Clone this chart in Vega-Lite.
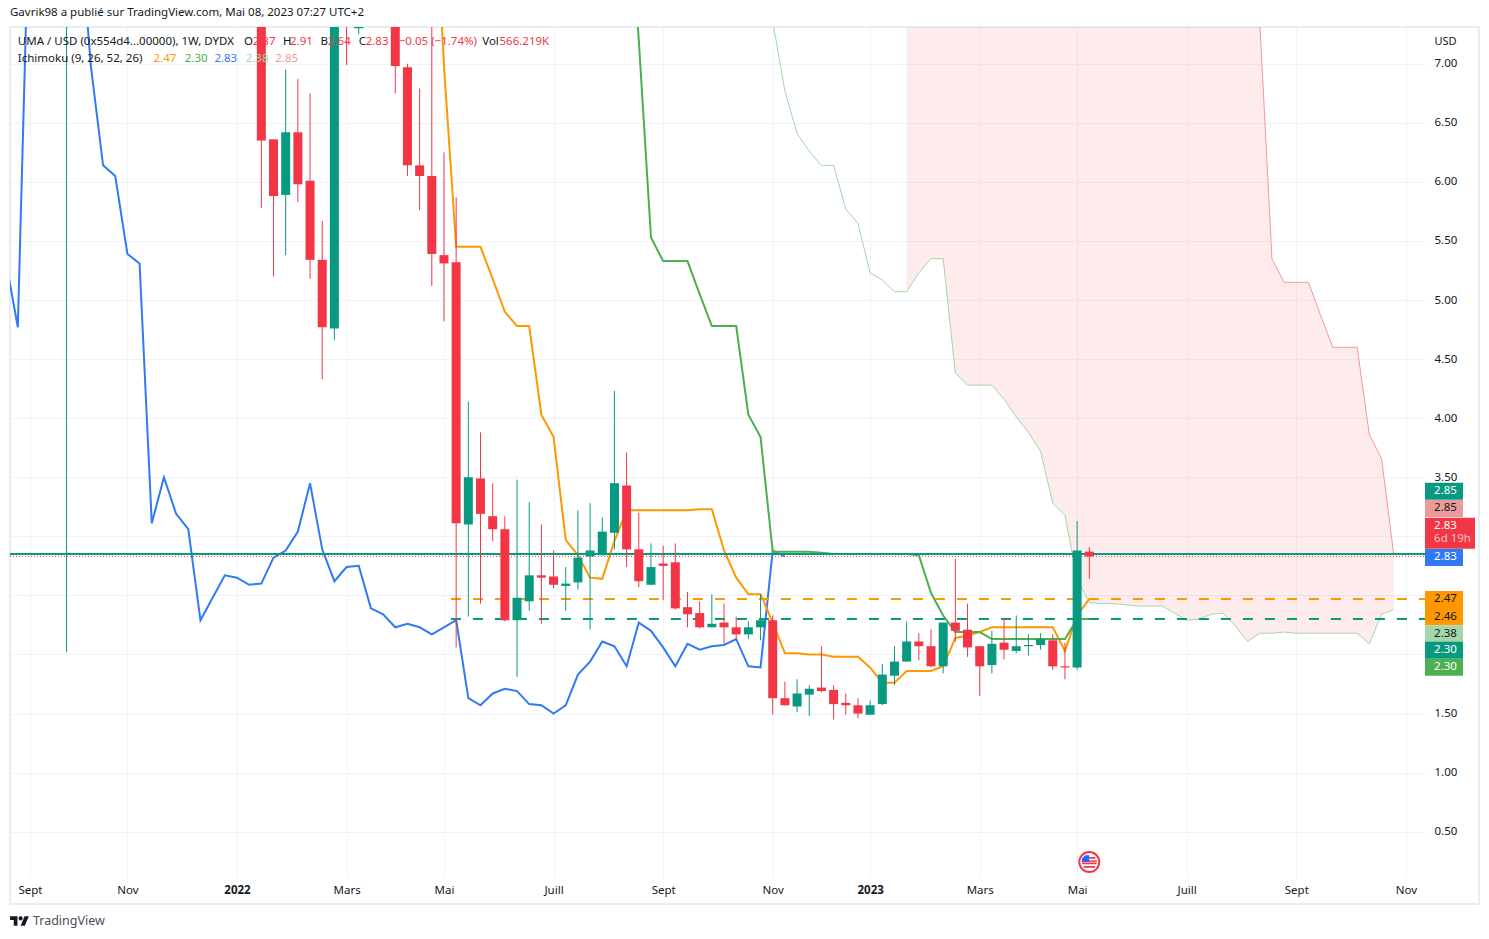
{
  "$schema": "https://vega.github.io/schema/vega-lite/v6.json",
  "width": 1415,
  "height": 850,
  "autosize": "none",
  "padding": {"left": 10, "top": 27, "right": 64, "bottom": 62},
  "background": "#ffffff",
  "title": {
    "text": "Gavrik98 a publié sur TradingView.com, Mai 08, 2023 07:27 UTC+2",
    "anchor": "start",
    "frame": "group",
    "offset": 8,
    "font": "Noto Sans",
    "fontSize": 11.5,
    "fontWeight": "normal",
    "color": "#131722"
  },
  "config": {
    "view": {"stroke": null},
    "font": "Noto Sans"
  },
  "data": {"values": [{}]},
  "datasets": {
    "candles": [
      {"date": "2021-09-27", "open": 9.0, "high": 12.0, "low": 2.02, "close": 9.5},
      {"date": "2022-01-17", "open": 8.2, "high": 8.5, "low": 5.78, "close": 6.35},
      {"date": "2022-01-24", "open": 6.36, "high": 6.36, "low": 5.2, "close": 5.88},
      {"date": "2022-01-31", "open": 5.89, "high": 6.95, "low": 5.38, "close": 6.42},
      {"date": "2022-02-07", "open": 6.42, "high": 6.87, "low": 5.83, "close": 5.98},
      {"date": "2022-02-14", "open": 6.01, "high": 6.75, "low": 5.18, "close": 5.34},
      {"date": "2022-02-21", "open": 5.34, "high": 5.67, "low": 4.33, "close": 4.77},
      {"date": "2022-02-28", "open": 4.76, "high": 9.0, "low": 4.66, "close": 8.62},
      {"date": "2022-03-07", "open": 9.0, "high": 9.5, "low": 6.99, "close": 8.0},
      {"date": "2022-03-14", "open": 7.3, "high": 9.0, "low": 7.25, "close": 8.5},
      {"date": "2022-04-04", "open": 8.29, "high": 8.5, "low": 6.75, "close": 6.98},
      {"date": "2022-04-11", "open": 6.97, "high": 7.0, "low": 6.05, "close": 6.14},
      {"date": "2022-04-18", "open": 6.14, "high": 6.79, "low": 5.76, "close": 6.05},
      {"date": "2022-04-25", "open": 6.05, "high": 8.0, "low": 5.12, "close": 5.39},
      {"date": "2022-05-02", "open": 5.38, "high": 6.25, "low": 4.82, "close": 5.31},
      {"date": "2022-05-09", "open": 5.32, "high": 5.87, "low": 2.06, "close": 3.11},
      {"date": "2022-05-16", "open": 3.1, "high": 4.14, "low": 2.32, "close": 3.5},
      {"date": "2022-05-23", "open": 3.49, "high": 3.88, "low": 2.43, "close": 3.19},
      {"date": "2022-05-30", "open": 3.17, "high": 3.45, "low": 2.96, "close": 3.06},
      {"date": "2022-06-06", "open": 3.06, "high": 3.17, "low": 2.28, "close": 2.29},
      {"date": "2022-06-13", "open": 2.29, "high": 3.48, "low": 1.81, "close": 2.48},
      {"date": "2022-06-20", "open": 2.45, "high": 3.29, "low": 2.37, "close": 2.67},
      {"date": "2022-06-27", "open": 2.67, "high": 3.1, "low": 2.26, "close": 2.65},
      {"date": "2022-07-04", "open": 2.66, "high": 2.88, "low": 2.56, "close": 2.59},
      {"date": "2022-07-11", "open": 2.58, "high": 2.74, "low": 2.37, "close": 2.6},
      {"date": "2022-07-18", "open": 2.61, "high": 3.22, "low": 2.55, "close": 2.82},
      {"date": "2022-07-25", "open": 2.83, "high": 3.28, "low": 2.21, "close": 2.88},
      {"date": "2022-08-01", "open": 2.84, "high": 3.16, "low": 2.84, "close": 3.04},
      {"date": "2022-08-08", "open": 3.03, "high": 4.23, "low": 2.89, "close": 3.45},
      {"date": "2022-08-15", "open": 3.43, "high": 3.71, "low": 2.74, "close": 2.89},
      {"date": "2022-08-22", "open": 2.89, "high": 3.2, "low": 2.57, "close": 2.62},
      {"date": "2022-08-29", "open": 2.59, "high": 2.94, "low": 2.59, "close": 2.74},
      {"date": "2022-09-05", "open": 2.77, "high": 2.92, "low": 2.46, "close": 2.75},
      {"date": "2022-09-12", "open": 2.78, "high": 2.94, "low": 2.38, "close": 2.39},
      {"date": "2022-09-19", "open": 2.4, "high": 2.53, "low": 2.23, "close": 2.34},
      {"date": "2022-09-26", "open": 2.35, "high": 2.45, "low": 2.22, "close": 2.23},
      {"date": "2022-10-03", "open": 2.23, "high": 2.51, "low": 2.23, "close": 2.26},
      {"date": "2022-10-10", "open": 2.27, "high": 2.43, "low": 2.09, "close": 2.23},
      {"date": "2022-10-17", "open": 2.23, "high": 2.32, "low": 2.12, "close": 2.17},
      {"date": "2022-10-24", "open": 2.17, "high": 2.28, "low": 2.13, "close": 2.23},
      {"date": "2022-10-31", "open": 2.23, "high": 2.51, "low": 2.12, "close": 2.29},
      {"date": "2022-11-07", "open": 2.29, "high": 2.33, "low": 1.49, "close": 1.63},
      {"date": "2022-11-14", "open": 1.63, "high": 1.77, "low": 1.57, "close": 1.57},
      {"date": "2022-11-21", "open": 1.56, "high": 1.79, "low": 1.51, "close": 1.67},
      {"date": "2022-11-28", "open": 1.66, "high": 1.74, "low": 1.48, "close": 1.71},
      {"date": "2022-12-05", "open": 1.72, "high": 2.07, "low": 1.68, "close": 1.69},
      {"date": "2022-12-12", "open": 1.7, "high": 1.74, "low": 1.45, "close": 1.58},
      {"date": "2022-12-19", "open": 1.59, "high": 1.67, "low": 1.49, "close": 1.57},
      {"date": "2022-12-26", "open": 1.57, "high": 1.63, "low": 1.46, "close": 1.5},
      {"date": "2023-01-02", "open": 1.49, "high": 1.61, "low": 1.49, "close": 1.57},
      {"date": "2023-01-09", "open": 1.58, "high": 1.92, "low": 1.57, "close": 1.83},
      {"date": "2023-01-16", "open": 1.82, "high": 2.07, "low": 1.74, "close": 1.94},
      {"date": "2023-01-23", "open": 1.94, "high": 2.28, "low": 1.94, "close": 2.11},
      {"date": "2023-01-30", "open": 2.11, "high": 2.18, "low": 1.95, "close": 2.07},
      {"date": "2023-02-06", "open": 2.07, "high": 2.21, "low": 1.89, "close": 1.9},
      {"date": "2023-02-13", "open": 1.9, "high": 2.27, "low": 1.84, "close": 2.27},
      {"date": "2023-02-20", "open": 2.27, "high": 2.81, "low": 2.11, "close": 2.2},
      {"date": "2023-02-27", "open": 2.21, "high": 2.43, "low": 1.98, "close": 2.06},
      {"date": "2023-03-06", "open": 2.07, "high": 2.07, "low": 1.65, "close": 1.9},
      {"date": "2023-03-13", "open": 1.91, "high": 2.2, "low": 1.84, "close": 2.09},
      {"date": "2023-03-20", "open": 2.1, "high": 2.31, "low": 1.96, "close": 2.04},
      {"date": "2023-03-27", "open": 2.03, "high": 2.33, "low": 2.01, "close": 2.07},
      {"date": "2023-04-03", "open": 2.07, "high": 2.17, "low": 1.99, "close": 2.08},
      {"date": "2023-04-10", "open": 2.08, "high": 2.18, "low": 2.04, "close": 2.13},
      {"date": "2023-04-17", "open": 2.12, "high": 2.17, "low": 1.87, "close": 1.9},
      {"date": "2023-04-24", "open": 1.9, "high": 2.1, "low": 1.79, "close": 1.89},
      {"date": "2023-05-01", "open": 1.89, "high": 3.13, "low": 1.87, "close": 2.88},
      {"date": "2023-05-08", "open": 2.87, "high": 2.91, "low": 2.64, "close": 2.83}
    ],
    "ichimoku": [
      {"date": "2021-08-23", "series": "chikou", "value": 5.34},
      {"date": "2021-08-30", "series": "chikou", "value": 4.77},
      {"date": "2021-09-06", "series": "chikou", "value": 8.62},
      {"date": "2021-09-13", "series": "chikou", "value": 9.0},
      {"date": "2021-09-20", "series": "chikou", "value": 9.2},
      {"date": "2021-09-27", "series": "chikou", "value": 8.8},
      {"date": "2021-10-04", "series": "chikou", "value": 8.29},
      {"date": "2021-10-11", "series": "chikou", "value": 6.98},
      {"date": "2021-10-18", "series": "chikou", "value": 6.14},
      {"date": "2021-10-25", "series": "chikou", "value": 6.05},
      {"date": "2021-11-01", "series": "chikou", "value": 5.39},
      {"date": "2021-11-08", "series": "chikou", "value": 5.31},
      {"date": "2021-11-15", "series": "chikou", "value": 3.11},
      {"date": "2021-11-22", "series": "chikou", "value": 3.5},
      {"date": "2021-11-29", "series": "chikou", "value": 3.19},
      {"date": "2021-12-06", "series": "chikou", "value": 3.06},
      {"date": "2021-12-13", "series": "chikou", "value": 2.29},
      {"date": "2021-12-20", "series": "chikou", "value": 2.48},
      {"date": "2021-12-27", "series": "chikou", "value": 2.67},
      {"date": "2022-01-03", "series": "chikou", "value": 2.65},
      {"date": "2022-01-10", "series": "chikou", "value": 2.59},
      {"date": "2022-01-17", "series": "chikou", "value": 2.6},
      {"date": "2022-01-24", "series": "chikou", "value": 2.82},
      {"date": "2022-01-31", "series": "chikou", "value": 2.88},
      {"date": "2022-02-07", "series": "chikou", "value": 3.04},
      {"date": "2022-02-14", "series": "chikou", "value": 3.45},
      {"date": "2022-02-21", "series": "chikou", "value": 2.89},
      {"date": "2022-02-28", "series": "chikou", "value": 2.62},
      {"date": "2022-03-07", "series": "chikou", "value": 2.74},
      {"date": "2022-03-14", "series": "chikou", "value": 2.75},
      {"date": "2022-03-21", "series": "chikou", "value": 2.39},
      {"date": "2022-03-28", "series": "chikou", "value": 2.34},
      {"date": "2022-04-04", "series": "chikou", "value": 2.23},
      {"date": "2022-04-11", "series": "chikou", "value": 2.26},
      {"date": "2022-04-18", "series": "chikou", "value": 2.23},
      {"date": "2022-04-25", "series": "chikou", "value": 2.17},
      {"date": "2022-05-02", "series": "chikou", "value": 2.23},
      {"date": "2022-05-09", "series": "chikou", "value": 2.29},
      {"date": "2022-05-16", "series": "chikou", "value": 1.63},
      {"date": "2022-05-23", "series": "chikou", "value": 1.57},
      {"date": "2022-05-30", "series": "chikou", "value": 1.67},
      {"date": "2022-06-06", "series": "chikou", "value": 1.71},
      {"date": "2022-06-13", "series": "chikou", "value": 1.69},
      {"date": "2022-06-20", "series": "chikou", "value": 1.58},
      {"date": "2022-06-27", "series": "chikou", "value": 1.57},
      {"date": "2022-07-04", "series": "chikou", "value": 1.5},
      {"date": "2022-07-11", "series": "chikou", "value": 1.57},
      {"date": "2022-07-18", "series": "chikou", "value": 1.83},
      {"date": "2022-07-25", "series": "chikou", "value": 1.94},
      {"date": "2022-08-01", "series": "chikou", "value": 2.11},
      {"date": "2022-08-08", "series": "chikou", "value": 2.07},
      {"date": "2022-08-15", "series": "chikou", "value": 1.9},
      {"date": "2022-08-22", "series": "chikou", "value": 2.27},
      {"date": "2022-08-29", "series": "chikou", "value": 2.2},
      {"date": "2022-09-05", "series": "chikou", "value": 2.06},
      {"date": "2022-09-12", "series": "chikou", "value": 1.9},
      {"date": "2022-09-19", "series": "chikou", "value": 2.09},
      {"date": "2022-09-26", "series": "chikou", "value": 2.04},
      {"date": "2022-10-03", "series": "chikou", "value": 2.07},
      {"date": "2022-10-10", "series": "chikou", "value": 2.08},
      {"date": "2022-10-17", "series": "chikou", "value": 2.13},
      {"date": "2022-10-24", "series": "chikou", "value": 1.9},
      {"date": "2022-10-31", "series": "chikou", "value": 1.89},
      {"date": "2022-11-07", "series": "chikou", "value": 2.88},
      {"date": "2022-11-14", "series": "chikou", "value": 2.83},
      {"date": "2022-04-25", "series": "conversion", "value": 9.0},
      {"date": "2022-05-02", "series": "conversion", "value": 6.98},
      {"date": "2022-05-09", "series": "conversion", "value": 5.45},
      {"date": "2022-05-16", "series": "conversion", "value": 5.45},
      {"date": "2022-05-23", "series": "conversion", "value": 5.45},
      {"date": "2022-05-30", "series": "conversion", "value": 5.18},
      {"date": "2022-06-06", "series": "conversion", "value": 4.9},
      {"date": "2022-06-13", "series": "conversion", "value": 4.78},
      {"date": "2022-06-20", "series": "conversion", "value": 4.78},
      {"date": "2022-06-27", "series": "conversion", "value": 4.03},
      {"date": "2022-07-04", "series": "conversion", "value": 3.84},
      {"date": "2022-07-11", "series": "conversion", "value": 2.97},
      {"date": "2022-07-18", "series": "conversion", "value": 2.84},
      {"date": "2022-07-25", "series": "conversion", "value": 2.65},
      {"date": "2022-08-01", "series": "conversion", "value": 2.64},
      {"date": "2022-08-08", "series": "conversion", "value": 2.96},
      {"date": "2022-08-15", "series": "conversion", "value": 3.22},
      {"date": "2022-08-22", "series": "conversion", "value": 3.22},
      {"date": "2022-08-29", "series": "conversion", "value": 3.22},
      {"date": "2022-09-05", "series": "conversion", "value": 3.22},
      {"date": "2022-09-12", "series": "conversion", "value": 3.22},
      {"date": "2022-09-19", "series": "conversion", "value": 3.22},
      {"date": "2022-09-26", "series": "conversion", "value": 3.23},
      {"date": "2022-10-03", "series": "conversion", "value": 3.23},
      {"date": "2022-10-10", "series": "conversion", "value": 2.88},
      {"date": "2022-10-17", "series": "conversion", "value": 2.65},
      {"date": "2022-10-24", "series": "conversion", "value": 2.51},
      {"date": "2022-10-31", "series": "conversion", "value": 2.51},
      {"date": "2022-11-07", "series": "conversion", "value": 2.27},
      {"date": "2022-11-14", "series": "conversion", "value": 2.01},
      {"date": "2022-11-21", "series": "conversion", "value": 2.01},
      {"date": "2022-11-28", "series": "conversion", "value": 2.0},
      {"date": "2022-12-05", "series": "conversion", "value": 2.0},
      {"date": "2022-12-12", "series": "conversion", "value": 1.98},
      {"date": "2022-12-19", "series": "conversion", "value": 1.98},
      {"date": "2022-12-26", "series": "conversion", "value": 1.98},
      {"date": "2023-01-02", "series": "conversion", "value": 1.89},
      {"date": "2023-01-09", "series": "conversion", "value": 1.76},
      {"date": "2023-01-16", "series": "conversion", "value": 1.76},
      {"date": "2023-01-23", "series": "conversion", "value": 1.86},
      {"date": "2023-01-30", "series": "conversion", "value": 1.86},
      {"date": "2023-02-06", "series": "conversion", "value": 1.86},
      {"date": "2023-02-13", "series": "conversion", "value": 1.9},
      {"date": "2023-02-20", "series": "conversion", "value": 2.14},
      {"date": "2023-02-27", "series": "conversion", "value": 2.16},
      {"date": "2023-03-06", "series": "conversion", "value": 2.19},
      {"date": "2023-03-13", "series": "conversion", "value": 2.23},
      {"date": "2023-03-20", "series": "conversion", "value": 2.23},
      {"date": "2023-03-27", "series": "conversion", "value": 2.23},
      {"date": "2023-04-03", "series": "conversion", "value": 2.23},
      {"date": "2023-04-10", "series": "conversion", "value": 2.23},
      {"date": "2023-04-17", "series": "conversion", "value": 2.23},
      {"date": "2023-04-24", "series": "conversion", "value": 2.03},
      {"date": "2023-05-01", "series": "conversion", "value": 2.33},
      {"date": "2023-05-08", "series": "conversion", "value": 2.47},
      {"date": "2022-08-15", "series": "base", "value": 8.6},
      {"date": "2022-08-22", "series": "base", "value": 7.2},
      {"date": "2022-08-29", "series": "base", "value": 5.53},
      {"date": "2022-09-05", "series": "base", "value": 5.33},
      {"date": "2022-09-12", "series": "base", "value": 5.33},
      {"date": "2022-09-19", "series": "base", "value": 5.33},
      {"date": "2022-09-26", "series": "base", "value": 5.05},
      {"date": "2022-10-03", "series": "base", "value": 4.78},
      {"date": "2022-10-10", "series": "base", "value": 4.78},
      {"date": "2022-10-17", "series": "base", "value": 4.78},
      {"date": "2022-10-24", "series": "base", "value": 4.03},
      {"date": "2022-10-31", "series": "base", "value": 3.84},
      {"date": "2022-11-07", "series": "base", "value": 2.87},
      {"date": "2022-11-14", "series": "base", "value": 2.87},
      {"date": "2022-11-21", "series": "base", "value": 2.87},
      {"date": "2022-11-28", "series": "base", "value": 2.87},
      {"date": "2022-12-05", "series": "base", "value": 2.86},
      {"date": "2022-12-12", "series": "base", "value": 2.85},
      {"date": "2022-12-19", "series": "base", "value": 2.85},
      {"date": "2022-12-26", "series": "base", "value": 2.85},
      {"date": "2023-01-02", "series": "base", "value": 2.85},
      {"date": "2023-01-09", "series": "base", "value": 2.85},
      {"date": "2023-01-16", "series": "base", "value": 2.85},
      {"date": "2023-01-23", "series": "base", "value": 2.85},
      {"date": "2023-01-30", "series": "base", "value": 2.84},
      {"date": "2023-02-06", "series": "base", "value": 2.52},
      {"date": "2023-02-13", "series": "base", "value": 2.33},
      {"date": "2023-02-20", "series": "base", "value": 2.19},
      {"date": "2023-02-27", "series": "base", "value": 2.19},
      {"date": "2023-03-06", "series": "base", "value": 2.19},
      {"date": "2023-03-13", "series": "base", "value": 2.13},
      {"date": "2023-03-20", "series": "base", "value": 2.13},
      {"date": "2023-03-27", "series": "base", "value": 2.13},
      {"date": "2023-04-03", "series": "base", "value": 2.13},
      {"date": "2023-04-10", "series": "base", "value": 2.13},
      {"date": "2023-04-17", "series": "base", "value": 2.13},
      {"date": "2023-04-24", "series": "base", "value": 2.13},
      {"date": "2023-05-01", "series": "base", "value": 2.3},
      {"date": "2023-05-08", "series": "base", "value": 2.3}
    ],
    "cloud": [
      {"date": "2022-10-31", "leadA": 8.0},
      {"date": "2022-11-07", "leadA": 7.36},
      {"date": "2022-11-14", "leadA": 6.77},
      {"date": "2022-11-21", "leadA": 6.41},
      {"date": "2022-11-28", "leadA": 6.26},
      {"date": "2022-12-05", "leadA": 6.14},
      {"date": "2022-12-12", "leadA": 6.14},
      {"date": "2022-12-19", "leadA": 5.77},
      {"date": "2022-12-26", "leadA": 5.65},
      {"date": "2023-01-02", "leadA": 5.23},
      {"date": "2023-01-09", "leadA": 5.17},
      {"date": "2023-01-16", "leadA": 5.07},
      {"date": "2023-01-23", "leadA": 5.07, "leadB": 9.0},
      {"date": "2023-01-30", "leadA": 5.23, "leadB": 9.0},
      {"date": "2023-02-06", "leadA": 5.35, "leadB": 9.0},
      {"date": "2023-02-13", "leadA": 5.35, "leadB": 9.0},
      {"date": "2023-02-20", "leadA": 4.38, "leadB": 9.0},
      {"date": "2023-02-27", "leadA": 4.28, "leadB": 9.0},
      {"date": "2023-03-06", "leadA": 4.28, "leadB": 9.0},
      {"date": "2023-03-13", "leadA": 4.28, "leadB": 9.0},
      {"date": "2023-03-20", "leadA": 4.16, "leadB": 9.0},
      {"date": "2023-03-27", "leadA": 4.01, "leadB": 9.0},
      {"date": "2023-04-03", "leadA": 3.88, "leadB": 9.0},
      {"date": "2023-04-10", "leadA": 3.72, "leadB": 9.0},
      {"date": "2023-04-17", "leadA": 3.28, "leadB": 9.0},
      {"date": "2023-04-24", "leadA": 3.18, "leadB": 9.0},
      {"date": "2023-05-01", "leadA": 2.64, "leadB": 9.0},
      {"date": "2023-05-08", "leadA": 2.44, "leadB": 9.0},
      {"date": "2023-05-15", "leadA": 2.43, "leadB": 9.0},
      {"date": "2023-05-22", "leadA": 2.43, "leadB": 9.0},
      {"date": "2023-05-29", "leadA": 2.42, "leadB": 9.0},
      {"date": "2023-06-05", "leadA": 2.41, "leadB": 9.0},
      {"date": "2023-06-12", "leadA": 2.41, "leadB": 9.0},
      {"date": "2023-06-19", "leadA": 2.41, "leadB": 9.0},
      {"date": "2023-06-26", "leadA": 2.35, "leadB": 9.0},
      {"date": "2023-07-03", "leadA": 2.29, "leadB": 9.0},
      {"date": "2023-07-10", "leadA": 2.3, "leadB": 9.0},
      {"date": "2023-07-17", "leadA": 2.34, "leadB": 9.0},
      {"date": "2023-07-24", "leadA": 2.35, "leadB": 9.0},
      {"date": "2023-07-31", "leadA": 2.24, "leadB": 9.0},
      {"date": "2023-08-07", "leadA": 2.11, "leadB": 9.0},
      {"date": "2023-08-14", "leadA": 2.18, "leadB": 7.36},
      {"date": "2023-08-21", "leadA": 2.18, "leadB": 5.35},
      {"date": "2023-08-28", "leadA": 2.19, "leadB": 5.15},
      {"date": "2023-09-04", "leadA": 2.18, "leadB": 5.15},
      {"date": "2023-09-11", "leadA": 2.18, "leadB": 5.15},
      {"date": "2023-09-18", "leadA": 2.18, "leadB": 4.87},
      {"date": "2023-09-25", "leadA": 2.18, "leadB": 4.6},
      {"date": "2023-10-02", "leadA": 2.18, "leadB": 4.6},
      {"date": "2023-10-09", "leadA": 2.18, "leadB": 4.6},
      {"date": "2023-10-16", "leadA": 2.09, "leadB": 3.86},
      {"date": "2023-10-23", "leadA": 2.34, "leadB": 3.66},
      {"date": "2023-10-30", "leadA": 2.38, "leadB": 2.85}
    ],
    "priceLines": [
      {"series": "bullish", "price": 2.85},
      {"series": "bearish", "price": 2.83}
    ],
    "dashedLines": [
      {"series": "conversion", "price": 2.47},
      {"series": "bullish", "price": 2.3}
    ],
    "tags": [
      {"label": "2.85", "at": 3.381, "series": "bullish"},
      {"label": "2.85", "at": 3.236, "series": "leadB"},
      {"label": "2.83", "at": 2.821, "series": "chikou"},
      {"label": "2.47", "at": 2.466, "series": "conversion"},
      {"label": "2.46", "at": 2.321, "series": "conversion"},
      {"label": "2.38", "at": 2.176, "series": "leadA"},
      {"label": "2.30", "at": 2.036, "series": "bullish"},
      {"label": "2.30", "at": 1.891, "series": "base"}
    ],
    "legend": [
      {"text": "UMA / USD (0x554d4...00000), 1W, DYDX", "at": "2021-08-30", "level": 7.186, "series": "label"},
      {"text": "O", "at": "2022-01-07", "level": 7.186, "series": "label"},
      {"text": "2.87", "at": "2022-01-12", "level": 7.186, "series": "bearish"},
      {"text": "H", "at": "2022-01-29T12:00:00Z", "level": 7.186, "series": "label"},
      {"text": "2.91", "at": "2022-02-02T12:00:00Z", "level": 7.186, "series": "bearish"},
      {"text": "B", "at": "2022-02-20", "level": 7.186, "series": "label"},
      {"text": "2.64", "at": "2022-02-24T07:00:00Z", "level": 7.186, "series": "bearish"},
      {"text": "C", "at": "2022-03-14", "level": 7.186, "series": "label"},
      {"text": "2.83", "at": "2022-03-18", "level": 7.186, "series": "bearish"},
      {"text": "−0.05 (−1.74%)", "at": "2022-04-06", "level": 7.186, "series": "bearish"},
      {"text": "Vol", "at": "2022-05-24", "level": 7.186, "series": "label"},
      {"text": "566.219K", "at": "2022-06-02T22:00:00Z", "level": 7.186, "series": "bearish"},
      {"text": "Ichimoku (9, 26, 52, 26)", "at": "2021-08-30", "level": 7.036, "series": "label"},
      {"text": "2.47", "at": "2021-11-16", "level": 7.036, "series": "conversion"},
      {"text": "2.30", "at": "2021-12-04", "level": 7.036, "series": "base"},
      {"text": "2.83", "at": "2021-12-21", "level": 7.036, "series": "chikou"},
      {"text": "2.38", "at": "2022-01-08", "level": 7.036, "series": "leadA"},
      {"text": "2.85", "at": "2022-01-25", "level": 7.036, "series": "leadB"}
    ]
  },
  "encoding": {
    "x": {
      "type": "temporal",
      "scale": {"type": "utc", "nice": false, "padding": 0, "domain": ["2021-08-25T12:00:00Z", "2023-11-17T00:00:00Z"]},
      "axis": {
        "title": null,
        "orient": "bottom",
        "domain": false,
        "ticks": false,
        "labelPadding": 7,
        "labelFont": "Noto Sans",
        "labelFontSize": 11.5,
        "labelColor": "#131722",
        "labelFontWeight": {"condition": {"test": "utcmonth(datum.value) == 0", "value": "bold"}, "value": "normal"},
        "gridColor": "#f0f3fa",
        "grid": true,
        "values": ["2021-09-06", "2021-11-01", "2022-01-03", "2022-03-07", "2022-05-02", "2022-07-04", "2022-09-05", "2022-11-07", "2023-01-02", "2023-03-06", "2023-05-01", "2023-07-03", "2023-09-04", "2023-11-06"],
        "labelExpr": "utcmonth(datum.value) == 0 ? utcyear(datum.value) : {'8': 'Sept', '10': 'Nov', '2': 'Mars', '4': 'Mai', '6': 'Juill'}[utcmonth(datum.value)]"
      }
    },
    "y": {
      "type": "quantitative",
      "scale": {"domain": [0.1165, 7.311], "zero": false, "nice": false},
      "axis": {
        "title": "USD",
        "titleAngle": 0,
        "titleX": 9,
        "titleY": 19,
        "titleAlign": "left",
        "titleFont": "Noto Sans",
        "titleFontSize": 11,
        "titleFontWeight": "normal",
        "titleColor": "#131722",
        "orient": "right",
        "domain": false,
        "ticks": false,
        "labelPadding": 9,
        "labelFont": "Noto Sans",
        "labelFontSize": 11.5,
        "labelColor": "#131722",
        "gridColor": "#f0f3fa",
        "grid": true,
        "values": [0.5, 1, 1.5, 2, 2.5, 3, 3.5, 4, 4.5, 5, 5.5, 6, 6.5, 7],
        "labelExpr": "datum.value >= 2 && datum.value <= 3 ? '' : format(datum.value, '.2f')"
      }
    }
  },
  "layer": [
    {
      "mark": {"type": "rect", "fill": "transparent", "stroke": "#e9ecf2", "strokeWidth": 2},
      "encoding": {
        "x": {"datum": {"year": 2021, "month": 8, "date": 25, "hours": 12, "utc": true}},
        "x2": {"datum": {"year": 2023, "month": 12, "date": 18, "utc": true}},
        "y": {"datum": 7.311},
        "y2": {"datum": -0.1125}
      }
    },
    {
      "data": {"name": "cloud"},
      "transform": [{"filter": "isValid(datum.leadB)"}],
      "mark": {"type": "area", "clip": true, "color": "#f23645", "opacity": 0.1, "interpolate": "linear"},
      "encoding": {
        "x": {"field": "date"},
        "y": {"field": "leadB", "type": "quantitative"},
        "y2": {"field": "leadA"}
      }
    },
    {
      "data": {"name": "cloud"},
      "mark": {"type": "line", "clip": true, "color": "#a5d6a7", "strokeWidth": 1},
      "encoding": {"x": {"field": "date"}, "y": {"field": "leadA", "type": "quantitative"}}
    },
    {
      "data": {"name": "cloud"},
      "transform": [{"filter": "isValid(datum.leadB)"}],
      "mark": {"type": "line", "clip": true, "color": "#ef9a9a", "strokeWidth": 1},
      "encoding": {"x": {"field": "date"}, "y": {"field": "leadB", "type": "quantitative"}}
    },
    {
      "data": {"name": "ichimoku"},
      "mark": {"type": "line", "clip": true, "strokeWidth": 2},
      "encoding": {
        "x": {"field": "date"},
        "y": {"field": "value", "type": "quantitative"},
        "color": {
          "field": "series",
          "type": "nominal",
          "legend": null,
          "scale": {
            "domain": ["bullish", "bearish", "chikou", "conversion", "base", "leadA", "leadB", "label"],
            "range": ["#089981", "#f23645", "#3179f5", "#ff9800", "#4caf50", "#a5d6a7", "#ef9a9a", "#131722"]
          }
        }
      }
    },
    {
      "data": {"name": "priceLines"},
      "transform": [{"filter": "datum.series == 'bullish'"}],
      "mark": {"type": "rule", "strokeWidth": 2},
      "encoding": {
        "x": {"datum": {"year": 2021, "month": 8, "date": 25, "hours": 12, "utc": true}},
        "x2": {"datum": {"year": 2023, "month": 11, "date": 17, "utc": true}},
        "y": {"field": "price", "type": "quantitative"},
        "color": {"field": "series", "type": "nominal", "legend": null}
      }
    },
    {
      "data": {"name": "priceLines"},
      "transform": [{"filter": "datum.series == 'bearish'"}],
      "mark": {"type": "rule", "strokeWidth": 1, "strokeDash": [1, 2]},
      "encoding": {
        "x": {"datum": {"year": 2021, "month": 8, "date": 25, "hours": 12, "utc": true}},
        "x2": {"datum": {"year": 2023, "month": 11, "date": 17, "utc": true}},
        "y": {"field": "price", "type": "quantitative"},
        "color": {"field": "series", "type": "nominal", "legend": null}
      }
    },
    {
      "data": {"name": "dashedLines"},
      "mark": {"type": "rule", "strokeWidth": 2, "strokeDash": [10, 12]},
      "encoding": {
        "x": {"datum": {"year": 2022, "month": 5, "date": 6, "utc": true}},
        "x2": {"datum": {"year": 2023, "month": 11, "date": 17, "utc": true}},
        "y": {"field": "price", "type": "quantitative"},
        "color": {"field": "series", "type": "nominal", "legend": null}
      }
    },
    {
      "data": {"name": "candles"},
      "mark": {"type": "rule", "clip": true, "strokeWidth": 1},
      "encoding": {
        "x": {"field": "date"},
        "y": {"field": "low", "type": "quantitative"},
        "y2": {"field": "high"},
        "color": {"condition": {"test": "datum.close >= datum.open", "value": "#089981"}, "value": "#f23645"}
      }
    },
    {
      "data": {"name": "candles"},
      "mark": {"type": "bar", "clip": true, "width": 9},
      "encoding": {
        "x": {"field": "date"},
        "y": {"field": "open", "type": "quantitative"},
        "y2": {"field": "close"},
        "color": {"condition": {"test": "datum.close >= datum.open", "value": "#089981"}, "value": "#f23645"}
      }
    },
    {
      "data": {"name": "tags"},
      "mark": {"type": "tick", "orient": "horizontal", "thickness": 17, "size": 38, "opacity": 1},
      "encoding": {
        "x": {"datum": {"year": 2023, "month": 11, "date": 27, "hours": 22, "utc": true}},
        "y": {"field": "at", "type": "quantitative"},
        "color": {"field": "series", "type": "nominal", "legend": null}
      }
    },
    {
      "data": {"name": "tags"},
      "mark": {"type": "text", "align": "left", "baseline": "middle", "font": "Noto Sans", "fontSize": 11.5},
      "encoding": {
        "x": {"datum": {"year": 2023, "month": 11, "date": 22, "hours": 5, "utc": true}},
        "y": {"field": "at", "type": "quantitative"},
        "text": {"field": "label"},
        "color": {"condition": {"test": "indexof(['leadB', 'conversion', 'leadA'], datum.series) >= 0", "value": "#131722"}, "value": "#ffffff"}
      }
    },
    {
      "mark": {"type": "tick", "orient": "horizontal", "thickness": 31, "size": 50, "color": "#f23645", "opacity": 1},
      "encoding": {
        "x": {"datum": {"year": 2023, "month": 12, "date": 1, "hours": 9, "utc": true}},
        "y": {"datum": 3.026}
      }
    },
    {
      "mark": {"type": "text", "align": "left", "baseline": "middle", "font": "Noto Sans", "fontSize": 11.5, "color": "#ffffff", "text": "2.83"},
      "encoding": {
        "x": {"datum": {"year": 2023, "month": 11, "date": 22, "hours": 5, "utc": true}},
        "y": {"datum": 3.086}
      }
    },
    {
      "mark": {"type": "text", "align": "left", "baseline": "middle", "font": "Noto Sans", "fontSize": 11.5, "color": "#fbc2c7", "text": "6d 19h"},
      "encoding": {
        "x": {"datum": {"year": 2023, "month": 11, "date": 22, "hours": 5, "utc": true}},
        "y": {"datum": 2.976}
      }
    },
    {
      "data": {"name": "legend"},
      "mark": {"type": "text", "align": "left", "baseline": "middle", "font": "Noto Sans", "fontSize": 11.5},
      "encoding": {
        "x": {"field": "at"},
        "y": {"field": "level", "type": "quantitative"},
        "text": {"field": "text"},
        "color": {"field": "series", "type": "nominal", "legend": null}
      }
    },
    {
      "mark": {"type": "point", "filled": true, "opacity": 1, "size": 1444, "color": "#131722", "shape": "M-0.111 0.25L-0.306 0.25L-0.306 -0.056L-0.5 -0.056L-0.5 -0.25L-0.111 -0.25ZM0.278 0.25L0.056 0.25L0.264 -0.25L0.486 -0.25ZM-0.055 -0.139a0.111 0.111 0 1 0 0.222 0a0.111 0.111 0 1 0 -0.222 0Z"},
      "encoding": {
        "x": {"datum": {"year": 2021, "month": 8, "date": 31, "utc": true}},
        "y": {"datum": -0.256}
      }
    },
    {
      "mark": {"type": "text", "align": "left", "baseline": "middle", "font": "Noto Sans", "fontSize": 12.5, "color": "#4a4e5a", "text": "TradingView"},
      "encoding": {
        "x": {"datum": {"year": 2021, "month": 9, "date": 7, "hours": 16, "utc": true}},
        "y": {"datum": -0.256}
      }
    },
    {
      "mark": {"type": "point", "filled": true, "opacity": 1, "size": 400, "color": "#ffffff", "stroke": "#f23645", "strokeWidth": 2},
      "encoding": {
        "x": {"datum": {"year": 2023, "month": 5, "date": 8, "utc": true}},
        "y": {"datum": 0.243}
      }
    },
    {
      "mark": {"type": "point", "filled": true, "opacity": 1, "size": 256, "color": "#f23645", "shape": "M-0.92 0.05H0.92V0.28H-0.92ZM-0.72 0.5H0.72V0.72H-0.72ZM0 -0.62H0.75V-0.4H0ZM0 -0.22H0.95V-0.03H0Z"},
      "encoding": {
        "x": {"datum": {"year": 2023, "month": 5, "date": 8, "utc": true}},
        "y": {"datum": 0.243}
      }
    },
    {
      "mark": {"type": "point", "filled": true, "opacity": 1, "size": 256, "color": "#2962ff", "shape": "M-0.92 0V-0.45L-0.5 -0.85H0V0Z"},
      "encoding": {
        "x": {"datum": {"year": 2023, "month": 5, "date": 8, "utc": true}},
        "y": {"datum": 0.243}
      }
    }
  ]
}
